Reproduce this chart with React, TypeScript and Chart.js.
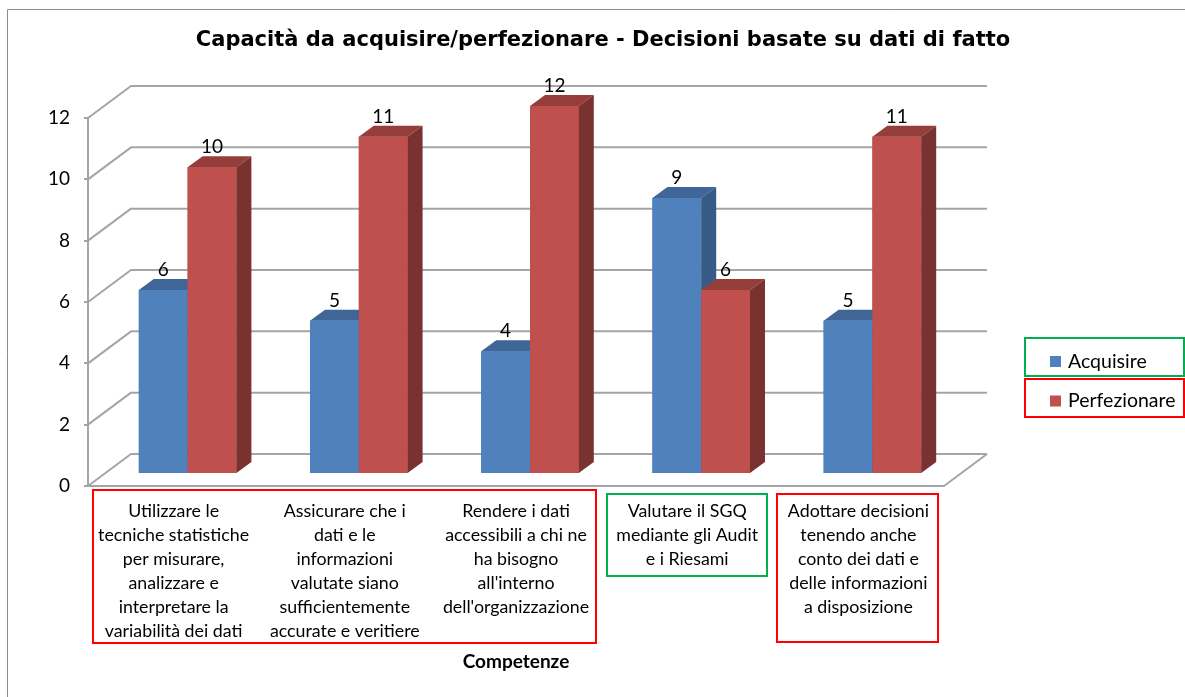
import React, { useEffect, useRef } from 'react';
import { Chart, registerables } from 'chart.js';

Chart.register(...registerables);

const TITLE = 'Capacità da acquisire/perfezionare - Decisioni basate su dati di fatto';
const X_TITLE = 'Competenze';
const categories: string[][] = [
  ['Utilizzare le', 'tecniche statistiche', 'per misurare,', 'analizzare e', 'interpretare la', 'variabilità dei dati'],
  ['Assicurare che i', 'dati e le', 'informazioni', 'valutate siano', 'sufficientemente', 'accurate e veritiere'],
  ['Rendere i dati', 'accessibili a chi ne', 'ha bisogno', "all'interno", "dell'organizzazione"],
  ['Valutare il SGQ', 'mediante gli Audit', 'e i Riesami'],
  ['Adottare decisioni', 'tenendo anche', 'conto dei dati e', 'delle informazioni', 'a disposizione'],
];
const seriesNames = ['Acquisire', 'Perfezionare'];
const acquisire = [6, 5, 4, 9, 5];
const perfezionare = [10, 11, 12, 6, 11];
const yTicks = [0, 2, 4, 6, 8, 10, 12];

const FRONT = ['#4F81BD', '#C0504D'];
const TOP = ['#3F6696', '#953D3B'];
const SIDE = ['#375A86', '#7A3230'];
const GRID = '#a5a5a5';
const WALL = { x: 43, y: -32 };
const SHIFT = { x: 14, y: -12 };
const BDEPTH = { x: 15, y: -11 };

const FONT = 'Lato, "Open Sans", sans-serif';

const threeD = {
  id: 'threeD',
  beforeDatasetsDraw(chart: any) {
    const { ctx, chartArea: ca, scales } = chart;
    const y = scales.y;
    ctx.save();
    ctx.strokeStyle = GRID;
    ctx.lineWidth = 2;
    ctx.lineJoin = 'round';
    for (const v of yTicks) {
      const py = y.getPixelForValue(v);
      ctx.beginPath();
      ctx.moveTo(ca.left, py);
      ctx.lineTo(ca.left + WALL.x, py + WALL.y);
      ctx.lineTo(ca.right + WALL.x, py + WALL.y);
      ctx.stroke();
    }
    // floor front & right edges
    const p0 = y.getPixelForValue(0);
    ctx.beginPath();
    ctx.moveTo(ca.left, p0);
    ctx.lineTo(ca.right, p0);
    ctx.lineTo(ca.right + WALL.x, p0 + WALL.y);
    ctx.stroke();
    ctx.restore();
    ctx.save();
    ctx.translate(SHIFT.x, SHIFT.y);
  },
  afterDatasetsDraw(chart: any) {
    const { ctx } = chart;
    const n = chart.data.labels.length;
    for (let i = 0; i < n; i++) {
      for (let d = 0; d < chart.data.datasets.length; d++) {
        const el = chart.getDatasetMeta(d).data[i];
        const { x, y, base, width } = el.getProps(['x', 'y', 'base', 'width'], true);
        const l = x - width / 2;
        const r = x + width / 2;
        ctx.fillStyle = FRONT[d];
        ctx.fillRect(l, y, width, base - y);
        ctx.fillStyle = TOP[d];
        ctx.beginPath();
        ctx.moveTo(l, y);
        ctx.lineTo(r, y);
        ctx.lineTo(r + BDEPTH.x, y + BDEPTH.y);
        ctx.lineTo(l + BDEPTH.x, y + BDEPTH.y);
        ctx.closePath();
        ctx.fill();
        ctx.fillStyle = SIDE[d];
        ctx.beginPath();
        ctx.moveTo(r, y);
        ctx.lineTo(r + BDEPTH.x, y + BDEPTH.y);
        ctx.lineTo(r + BDEPTH.x, base + BDEPTH.y);
        ctx.lineTo(r, base);
        ctx.closePath();
        ctx.fill();
      }
    }
    ctx.fillStyle = '#000';
    ctx.font = `19px ${FONT}`;
    ctx.textAlign = 'center';
    ctx.textBaseline = 'middle';
    for (let d = 0; d < chart.data.datasets.length; d++) {
      const ds = chart.data.datasets[d];
      chart.getDatasetMeta(d).data.forEach((el: any, i: number) => {
        const { x, y } = el.getProps(['x', 'y'], true);
        ctx.fillText(String(ds.data[i]), x, y - 20);
      });
    }
    ctx.restore();
  },
  afterDraw(chart: any) {
    const { ctx } = chart;
    ctx.save();
    // outer frame
    ctx.strokeStyle = '#8c8c8c';
    ctx.lineWidth = 1;
    ctx.beginPath();
    ctx.moveTo(7.5, 697);
    ctx.lineTo(7.5, 9.5);
    ctx.lineTo(1185, 9.5);
    ctx.stroke();
    // title
    ctx.fillStyle = '#000';
    ctx.font = 'bold 21px "DejaVu Sans", Verdana, sans-serif';
    ctx.textAlign = 'center';
    ctx.textBaseline = 'middle';
    ctx.fillText(TITLE, 603, 41);
    // annotation boxes
    ctx.lineWidth = 2;
    ctx.strokeStyle = '#FF0000';
    ctx.strokeRect(93, 490, 503, 153);
    ctx.strokeRect(777, 494, 161, 148);
    ctx.strokeRect(1025, 379, 159, 38);
    ctx.strokeStyle = '#00B050';
    ctx.strokeRect(607, 494, 160, 82);
    ctx.strokeRect(1025, 338, 159, 38);
    // legend
    ctx.font = `19.5px ${FONT}`;
    ctx.textAlign = 'left';
    const ly = [361.5, 401];
    chart.data.datasets.forEach((ds: any, i: number) => {
      ctx.fillStyle = FRONT[i];
      ctx.fillRect(1050, ly[i] - 5.5, 11, 11);
      ctx.fillStyle = '#000';
      ctx.fillText(ds.label, 1068, ly[i]);
    });
    ctx.restore();
  },
};

export default function App() {
  const ref = useRef<HTMLCanvasElement>(null);
  useEffect(() => {
    if (!ref.current) return;
    const chart = new Chart(ref.current, {
      type: 'bar',
      data: {
        labels: categories as any,
        datasets: [
          { label: seriesNames[0], data: acquisire, backgroundColor: FRONT[0], clip: false as any },
          { label: seriesNames[1], data: perfezionare, backgroundColor: FRONT[1], clip: false as any },
        ],
      },
      options: {
        responsive: false,
        animation: false,
        events: [],
        layout: { padding: { left: 8, right: 241, top: 118, bottom: 0 } },
        datasets: { bar: { categoryPercentage: 0.57, barPercentage: 1 } },
        plugins: { legend: { display: false }, title: { display: false }, tooltip: { enabled: false } },
        scales: {
          x: {
            grid: { display: false, drawTicks: false },
            border: { display: false },
            ticks: {
              autoSkip: false,
              maxRotation: 0,
              minRotation: 0,
              color: '#000',
              padding: 13,
              font: { family: FONT, size: 17.8, lineHeight: 24 / 17.8 },
            },
            title: {
              display: true,
              text: X_TITLE,
              color: '#000',
              font: { family: FONT, size: 19, weight: 'bold' },
              padding: { top: 0, bottom: 24 },
            },
            afterFit: (s: any) => { s.height = 211; },
          },
          y: {
            min: 0,
            max: 12,
            afterBuildTicks: (s: any) => { s.ticks = yTicks.map((v) => ({ value: v })); },
            ticks: { color: '#000', padding: 14, font: { family: FONT, size: 19 } },
            grid: { drawOnChartArea: false, drawTicks: true, tickLength: 4, color: GRID, lineWidth: 2 },
            border: { display: true, color: GRID, width: 2 },
            afterFit: (s: any) => { s.width = 80; },
          },
        },
      },
      plugins: [threeD],
    });
    return () => chart.destroy();
  }, []);
  return (
    <div style={{ position: 'absolute', left: 0, top: 0, width: 1185, height: 697, background: '#fff' }}>
      <canvas ref={ref} width={1185} height={697} style={{ display: 'block' }} />
    </div>
  );
}
